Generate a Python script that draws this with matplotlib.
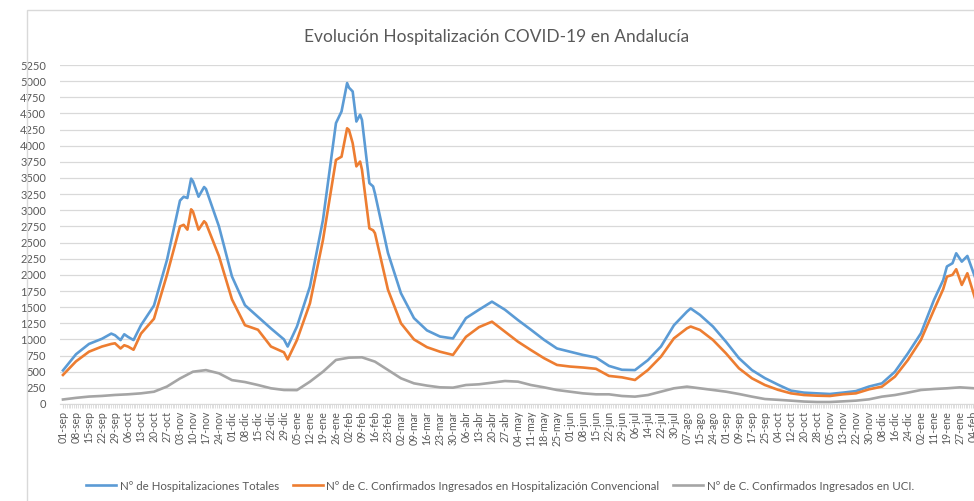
import matplotlib
matplotlib.use("Agg")
import matplotlib.pyplot as plt
from matplotlib.patches import Rectangle
from matplotlib.ticker import MultipleLocator

# category index (one entry per reported day) and values
idx = [0, 7, 14, 21, 26, 28, 31, 33, 35, 38, 42, 49, 56, 63, 65, 67, 69, 70, 73, 76,
       77, 84, 91, 98, 105, 112, 119, 121, 126, 133, 140, 147, 150, 153, 154, 156, 158, 160, 161, 165,
       167, 168, 175, 182, 189, 196, 203, 210, 217, 224, 231, 238, 245, 252, 259, 266, 273, 280, 287, 294,
       301, 308, 315, 322, 329, 336, 338, 343, 350, 357, 364, 371, 378, 385, 392, 399, 406, 413, 420, 427,
       434, 441, 448, 455, 462, 469, 474, 476, 479, 481, 484, 487, 491]
totales = [520, 770, 930, 1010, 1090, 1065, 990, 1080, 1040, 990, 1220, 1525, 2230, 3150, 3210, 3190, 3490, 3450, 3210, 3360,
           3330, 2750, 1975, 1530, 1350, 1170, 1000, 890, 1200, 1820, 2850, 4350, 4530, 4970, 4900, 4840, 4375, 4480, 4400, 3420,
           3370, 3260, 2340, 1715, 1330, 1140, 1045, 1015, 1330, 1460, 1585, 1460, 1300, 1150, 995, 860, 810, 760, 720, 590,
           530, 525, 680, 890, 1220, 1430, 1480, 1380, 1200, 965, 710, 525, 400, 300, 207, 176, 165, 155, 176, 200,
           270, 320, 500, 785, 1095, 1610, 1920, 2130, 2180, 2334, 2205, 2293, 1975]
convencional = [450, 660, 810, 890, 930, 940, 860, 910, 890, 840, 1090, 1320, 2000, 2750, 2775, 2700, 3015, 2980, 2700, 2830,
                2800, 2290, 1620, 1220, 1150, 890, 800, 690, 990, 1560, 2540, 3780, 3830, 4270, 4245, 4040, 3680, 3755, 3630, 2720,
                2690, 2645, 1770, 1250, 1000, 880, 810, 760, 1040, 1190, 1275, 1120, 965, 835, 710, 605, 580, 565, 545, 435,
                413, 372, 527, 733, 1017, 1172, 1200, 1147, 992, 785, 553, 398, 294, 220, 165, 139, 129, 124, 150, 165,
                227, 269, 424, 682, 992, 1457, 1780, 1973, 2000, 2087, 1844, 2025, 1650]

idx_uci = list(range(0, 484, 7)) + [491]
uci = [70, 95, 115, 125, 140, 150, 165, 190, 270, 395, 500, 525, 475, 370, 340, 294, 243, 217, 215, 346,
       500, 682, 718, 723, 656, 527, 398, 320, 285, 258, 253, 294, 305, 330, 356, 346, 294, 258, 217, 191,
       165, 150, 150, 124, 114, 139, 191, 243, 269, 243, 217, 191, 155, 114, 77, 65, 52, 38, 31, 31,
       41, 52, 72, 114, 139, 176, 217, 232, 243, 258, 243]

etiquetas = ["01-sep", "08-sep", "15-sep", "22-sep", "29-sep", "06-oct", "13-oct", "20-oct", "27-oct",
             "03-nov", "10-nov", "17-nov", "24-nov", "01-dic", "08-dic", "15-dic", "22-dic", "29-dic",
             "05-ene", "12-ene", "19-ene", "26-ene", "02-feb", "09-feb", "16-feb", "23-feb",
             "02-mar", "09-mar", "16-mar", "23-mar", "30-mar", "06-abr", "13-abr", "20-abr", "27-abr",
             "04-may", "11-may", "18-may", "25-may", "01-jun", "08-jun", "15-jun", "22-jun", "29-jun",
             "06-jul", "14-jul", "22-jul", "30-jul", "07-ago", "15-ago", "24-ago",
             "01-sep", "09-sep", "17-sep", "25-sep", "04-oct", "12-oct", "20-oct", "28-oct",
             "05-nov", "13-nov", "22-nov", "30-nov", "08-dic", "16-dic", "24-dic",
             "02-ene", "11-ene", "19-ene", "27-ene", "04-feb"]
pos_etiquetas = [7 * i for i in range(len(etiquetas))]

plt.rcParams['font.family'] = ['Lato', 'DejaVu Sans']
gris_txt = '#595959'

W, H = 974, 501
fig = plt.figure(figsize=[W / 100, H / 100], dpi=100)

# chart area border (cut off on the right / bottom like the screenshot)
fig.patches.append(Rectangle((27 / W, -0.1), 1.2, (H - 10) / H + 0.1, transform=fig.transFigure,
                             fill=False, edgecolor='#d9d9d9', linewidth=1.0))

ax = fig.add_axes([60 / W, (H - 404) / H, (995 - 60) / W, (404 - 65) / H])
ax.plot(idx, totales, color='#5b9bd5', lw=1.9, label='Nº de Hospitalizaciones Totales')
ax.plot(idx, convencional, color='#ed7d31', lw=1.9,
        label='Nº de C. Confirmados Ingresados en Hospitalización Convencional')
ax.plot(idx_uci, uci, color='#a5a5a5', lw=1.9, label='Nº de C. Confirmados Ingresados en UCI.')

ax.set_ylim(0, 5250)
ax.set_xlim(-1.6, (995 - 63) / 1.857)
ax.yaxis.set_major_locator(MultipleLocator(250))
ax.grid(axis='y', color='#d9d9d9', lw=0.9)
ax.set_axisbelow(True)
for s in ['top', 'right', 'left']:
    ax.spines[s].set_visible(False)
ax.spines['bottom'].set_color('#d9d9d9')

ax.set_xticks(pos_etiquetas)
ax.set_xticklabels(etiquetas, rotation=90, fontsize=7.6, color=gris_txt)
ax.set_xticks(range(0, 500), minor=True)
ax.tick_params(axis='x', which='major', length=3, color='#d9d9d9', pad=2)
ax.tick_params(axis='x', which='minor', length=3, color='#d9d9d9', width=0.6)
ax.tick_params(axis='y', length=0, labelsize=8, labelcolor=gris_txt, pad=10)

fig.text(497 / W, 1 - 37 / H, 'Evolución Hospitalización COVID-19 en Andalucía',
         ha='center', va='center', fontsize=12.5, color=gris_txt)

fig.legend(loc='center', bbox_to_anchor=(500 / W, 1 - 486 / H), ncol=3, frameon=False,
           fontsize=8.3, labelcolor=gris_txt, handlelength=2.6, handletextpad=0.3, columnspacing=1.2)

plt.savefig('out.png', dpi=100)
